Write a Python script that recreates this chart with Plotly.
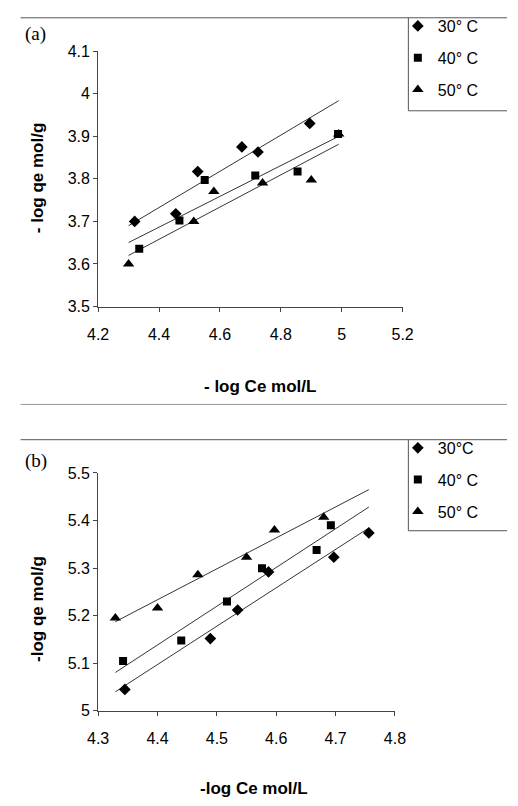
import numpy as np
import plotly.graph_objects as go

W, H = 518, 806

# ---------------- data: panel (a) ----------------
a_labels = ["30° C", "40° C", "50° C"]
a_x30 = [4.32, 4.455, 4.527, 4.672, 4.725, 4.895]
a_y30 = [3.700, 3.718, 3.817, 3.875, 3.863, 3.930]
a_x40 = [4.335, 4.467, 4.550, 4.716, 4.855, 4.988]
a_y40 = [3.636, 3.702, 3.797, 3.808, 3.817, 3.905]
a_x50 = [4.300, 4.514, 4.580, 4.740, 4.900, 4.990]
a_y50 = [3.600, 3.700, 3.770, 3.790, 3.797, 3.905]
a_xticks = [4.2, 4.4, 4.6, 4.8, 5.0, 5.2]
a_yticks = [3.5, 3.6, 3.7, 3.8, 3.9, 4.0, 4.1]

# ---------------- data: panel (b) ----------------
b_labels = ["30°C", "40° C", "50° C"]
b_x30 = [4.345, 4.489, 4.535, 4.587, 4.697, 4.756]
b_y30 = [5.045, 5.152, 5.212, 5.292, 5.323, 5.374]
b_x40 = [4.342, 4.440, 4.517, 4.576, 4.668, 4.692]
b_y40 = [5.105, 5.148, 5.230, 5.300, 5.338, 5.390]
b_x50 = [4.329, 4.400, 4.468, 4.550, 4.597, 4.680]
b_y50 = [5.195, 5.216, 5.286, 5.323, 5.380, 5.407]
b_xticks = [4.3, 4.4, 4.5, 4.6, 4.7, 4.8]
b_yticks = [5.0, 5.1, 5.2, 5.3, 5.4, 5.5]

symbols = ["diamond", "square", "triangle-up"]
msizes = [9, 8, 10]

def px_x(p):
    return p / W

def px_y(p):
    return 1 - p / H

fig = go.Figure()

def add_panel(xs, ys, labels, xa, ya, legend):
    allx = [v for s in xs for v in s]
    lo, hi = min(allx), max(allx)
    for i, (x, y) in enumerate(zip(xs, ys)):
        fig.add_trace(go.Scatter(
            x=x, y=y, mode="markers", name=labels[i],
            marker=dict(symbol=symbols[i], size=msizes[i], color="black"),
            xaxis=xa, yaxis=ya, legend=legend, legendgroup=legend + str(i),
        ))
        k, b = np.polyfit(x, y, 1)
        lx = np.array([lo, hi])
        fig.add_trace(go.Scatter(
            x=lx, y=k * lx + b, mode="lines", showlegend=False,
            line=dict(color="black", width=0.8),
            xaxis=xa, yaxis=ya, hoverinfo="skip",
        ))

add_panel([a_x30, a_x40, a_x50], [a_y30, a_y40, a_y50], a_labels, "x", "y", "legend")
add_panel([b_x30, b_x40, b_x50], [b_y30, b_y40, b_y50], b_labels, "x2", "y2", "legend2")

tickfont = dict(family="Liberation Sans, Arial", size=16, color="black")
axis_common = dict(showline=True, linecolor="#444", linewidth=1, ticks="outside",
                   ticklen=4, tickcolor="#444", showgrid=False, zeroline=False,
                   tickfont=tickfont, fixedrange=True)
xaxis_extra = dict(ticklabelstandoff=9)

legend_common = dict(font=dict(family="Liberation Sans, Arial", size=16, color="black"),
                     bgcolor="rgba(0,0,0,0)", borderwidth=0, tracegroupgap=8,
                     xanchor="left", yanchor="top", itemclick=False)

fig.update_layout(
    width=W, height=H, margin=dict(l=0, r=0, t=0, b=0),
    paper_bgcolor="white", plot_bgcolor="white",
    xaxis=dict(domain=[px_x(91), px_x(409)], range=[4.2, 5.2], tickvals=a_xticks,
               anchor="y", **axis_common, **xaxis_extra),
    yaxis=dict(domain=[px_y(305), px_y(44)], range=[3.5, 4.1], tickvals=a_yticks,
               anchor="x", **axis_common),
    xaxis2=dict(domain=[px_x(91), px_x(401)], range=[4.3, 4.8], tickvals=b_xticks,
                anchor="y2", **axis_common, **xaxis_extra),
    yaxis2=dict(domain=[px_y(718), px_y(475)], range=[5.0, 5.5], tickvals=b_yticks,
                anchor="x2", **axis_common),
    legend=dict(x=px_x(404), y=px_y(1), **legend_common),
    legend2=dict(x=px_x(404), y=px_y(432), **legend_common),
    showlegend=True,
)

lc = "#555"
shapes = [
    # panel (a) frame lines
    dict(type="line", xref="paper", yref="paper", x0=px_x(10), x1=1, y0=px_y(10), y1=px_y(10),
         line=dict(color=lc, width=1)),
    dict(type="line", xref="paper", yref="paper", x0=px_x(415), x1=px_x(415), y0=px_y(10), y1=px_y(105),
         line=dict(color=lc, width=1)),
    dict(type="line", xref="paper", yref="paper", x0=px_x(415), x1=1, y0=px_y(105), y1=px_y(105),
         line=dict(color=lc, width=1)),
    # separator
    dict(type="line", xref="paper", yref="paper", x0=px_x(10), x1=1, y0=px_y(405), y1=px_y(405),
         line=dict(color="#999", width=1)),
    # panel (b) frame lines
    dict(type="line", xref="paper", yref="paper", x0=px_x(10), x1=1, y0=px_y(441), y1=px_y(441),
         line=dict(color=lc, width=1)),
    dict(type="line", xref="paper", yref="paper", x0=px_x(415), x1=px_x(415), y0=px_y(441), y1=px_y(534),
         line=dict(color=lc, width=1)),
    dict(type="line", xref="paper", yref="paper", x0=px_x(415), x1=1, y0=px_y(534), y1=px_y(534),
         line=dict(color=lc, width=1)),
]
fig.update_layout(shapes=shapes)

title_font = dict(family="Liberation Sans, Arial", size=17, color="black")
serif_font = dict(family="Liberation Serif, Times New Roman", size=19, color="black")
annotations = [
    dict(text="(a)", x=px_x(13), y=px_y(27), xanchor="left", yanchor="middle", font=serif_font),
    dict(text="(b)", x=px_x(13), y=px_y(463), xanchor="left", yanchor="middle", font=serif_font),
    dict(text="<b>- log Ce mol/L</b>", x=px_x(260), y=px_y(387), xanchor="center", yanchor="middle",
         font=title_font),
    dict(text="<b>- log qe mol/g</b>", x=px_x(27), y=px_y(173), xanchor="center", yanchor="middle",
         textangle=-90, font=title_font),
    dict(text="<b>-log Ce mol/L</b>", x=px_x(254), y=px_y(797), xanchor="center", yanchor="middle",
         font=title_font),
    dict(text="<b>-log qe mol/g</b>", x=px_x(27), y=px_y(614), xanchor="center", yanchor="middle",
         textangle=-90, font=title_font),
]
for a in annotations:
    a.update(xref="paper", yref="paper", showarrow=False)
fig.update_layout(annotations=annotations)

fig.write_html("out.html")
